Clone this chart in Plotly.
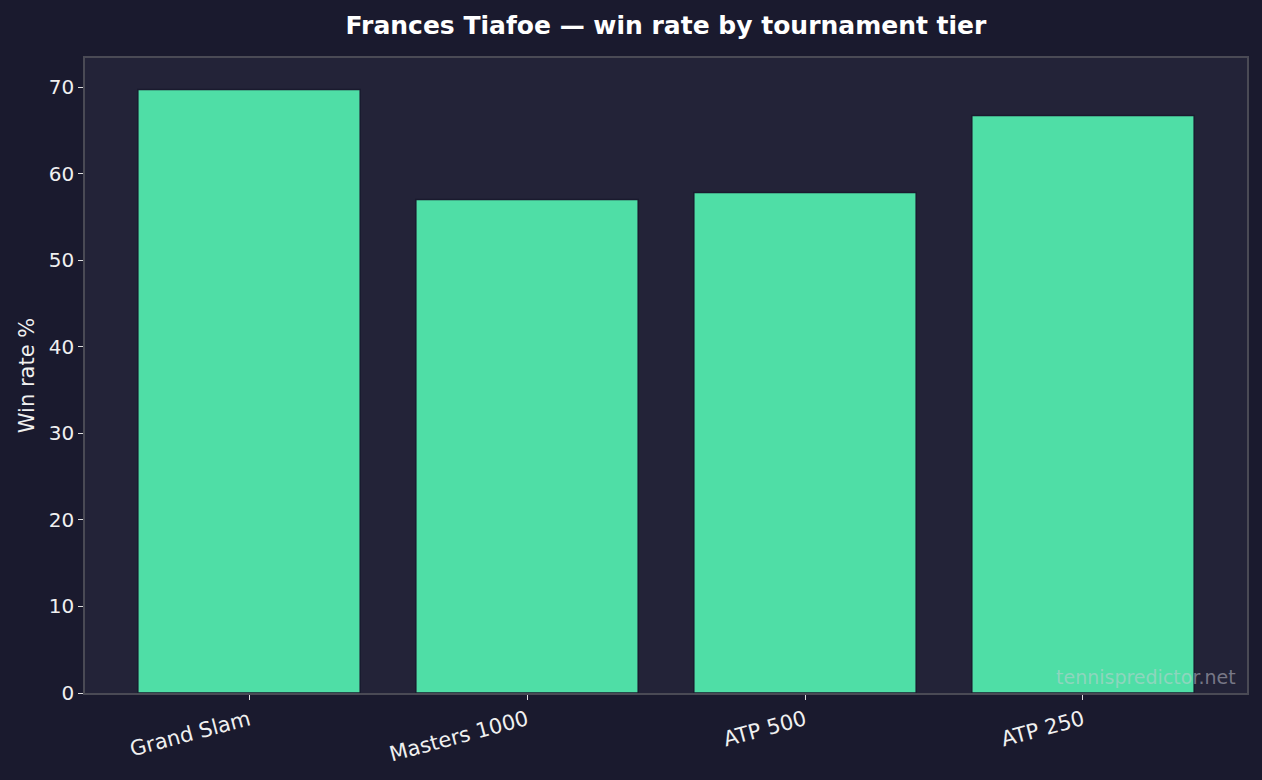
import plotly.graph_objects as go

# Data
tiers = ["Grand Slam", "Masters 1000", "ATP 500", "ATP 250"]
win_rate = [69.7, 57.0, 57.8, 66.7]

bg = "#1a1a2e"
panel = "#232338"
bar_color = "#4fdea6"
text_color = "#f0f0f0"

fig = go.Figure()

fig.add_trace(go.Bar(
    x=tiers,
    y=win_rate,
    marker=dict(color=bar_color, line=dict(color=bg, width=1.5)),
    hovertemplate="%{x}: %{y:.1f}%<extra></extra>",
))

fig.update_layout(
    width=1262,
    height=780,
    paper_bgcolor=bg,
    plot_bgcolor=panel,
    font=dict(family="DejaVu Sans", color=text_color, size=20),
    title=dict(
        text="<b>Frances Tiafoe — win rate by tournament tier</b>",
        xref="paper", x=0.5, xanchor="center",
        y=1 - 25 / 780, yanchor="middle",
        font=dict(size=25, color="#ffffff"),
    ),
    margin=dict(l=85, r=15, t=58, b=87),
    bargap=0.2,
    showlegend=False,
    xaxis=dict(
        range=[-0.59, 3.59],
        tickangle=-15,
        ticks="outside", ticklen=5, tickcolor="#dddddd", tickwidth=1,
        showline=True, linecolor="#4a4a55", linewidth=1.5, mirror=True,
        showgrid=False, zeroline=False,
        tickfont=dict(size=21, color=text_color),
    ),
    yaxis=dict(
        range=[0, 73.35],
        dtick=10,
        ticks="outside", ticklen=5, tickcolor="#dddddd", tickwidth=1,
        showline=True, linecolor="#4a4a55", linewidth=1.5, mirror=True,
        showgrid=False, zeroline=False,
        tickfont=dict(size=20, color=text_color),
        title=dict(text="Win rate %", font=dict(size=21, color=text_color), standoff=8),
    ),
)

# watermark
fig.add_annotation(
    text="tennispredictor.net",
    xref="paper", yref="paper", x=0.992, y=0.004,
    xanchor="right", yanchor="bottom", showarrow=False,
    font=dict(size=19, color="rgba(205,205,215,0.5)"),
)

fig.write_html("out.html", config={"displayModeBar": False},
               post_script="document.body.style.margin='0';")
